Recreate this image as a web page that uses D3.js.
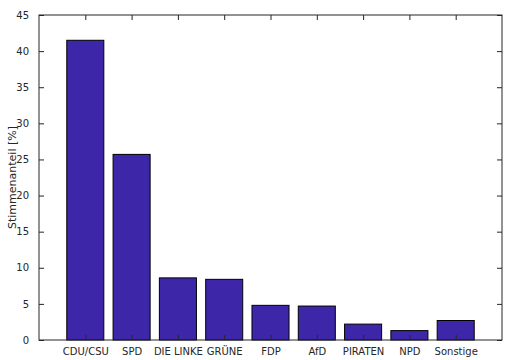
<!DOCTYPE html>
<html>
<head>
<meta charset="utf-8">
<script src="https://cdn.jsdelivr.net/npm/d3@7"></script>
<style>
  body { margin: 0; background: #fff; }
  svg text { font-family: "DejaVu Sans", sans-serif; font-size: 10px; fill: #262626; }
</style>
</head>
<body>
<div id="chart"></div>
<script>
// Bundestagswahl - Stimmenanteile
const parties = ["CDU/CSU", "SPD", "DIE LINKE", "GRÜNE", "FDP", "AfD", "PIRATEN", "NPD", "Sonstige"];
const shares = [41.5, 25.7, 8.6, 8.4, 4.8, 4.7, 2.2, 1.3, 2.7];
const yTicks = [0, 5, 10, 15, 20, 25, 30, 35, 40, 45];

const width = 520, height = 360;
const margin = { top: 15, right: 18, bottom: 20, left: 39 };
const chartWidth = width - margin.left - margin.right;
const chartHeight = height - margin.top - margin.bottom;

const svg = d3.select("#chart").append("svg")
    .attr("width", width)
    .attr("height", height);

const g = svg.append("g")
    .attr("transform", `translate(${margin.left},${margin.top})`);

// x als numerische Achse 0..10, Balken bei 1..9
const x = d3.scaleLinear().domain([0, parties.length + 1]).range([0, chartWidth]);
const y = d3.scaleLinear().domain([0, 45]).range([chartHeight, 0]);
const barW = (x(1) - x(0)) * 0.8;

// Balken
g.selectAll("rect.bar")
    .data(shares)
    .enter()
    .append("rect")
    .attr("class", "bar")
    .attr("x", (d, i) => x(i + 1) - barW / 2)
    .attr("y", d => y(d))
    .attr("width", barW)
    .attr("height", d => chartHeight - y(d))
    .attr("fill", "#3e26a8")
    .attr("stroke", "#000")
    .attr("stroke-width", 1);

const tickPos = parties.map((p, i) => i + 1);

// Achsen (Ticks nach innen)
const axisStyle = sel => {
    sel.select(".domain").remove();
    sel.selectAll("line").attr("stroke", "#262626");
};

g.append("g")
    .attr("transform", `translate(0,${chartHeight})`)
    .call(d3.axisBottom(x).tickValues(tickPos).tickFormat((d, i) => parties[i]).tickSizeInner(-5).tickSizeOuter(0).tickPadding(8))
    .call(axisStyle);

g.append("g")
    .call(d3.axisTop(x).tickValues(tickPos).tickFormat("").tickSizeInner(-5).tickSizeOuter(0))
    .call(axisStyle);

g.append("g")
    .call(d3.axisLeft(y).tickValues(yTicks).tickSizeInner(-5).tickSizeOuter(0).tickPadding(10))
    .call(axisStyle);

g.append("g")
    .attr("transform", `translate(${chartWidth},0)`)
    .call(d3.axisRight(y).tickValues(yTicks).tickFormat("").tickSizeInner(-5).tickSizeOuter(0))
    .call(axisStyle);

// Rahmen
g.append("rect")
    .attr("x", 0).attr("y", 0)
    .attr("width", chartWidth).attr("height", chartHeight)
    .attr("fill", "none")
    .attr("stroke", "#262626")
    .attr("stroke-width", 1);

g.selectAll(".tick text").style("font-family", "DejaVu Sans, sans-serif").style("font-size", "10px").attr("fill", "#262626");

// y-Beschriftung
svg.append("text")
    .attr("transform", `translate(16,${margin.top + chartHeight / 2}) rotate(-90)`)
    .attr("text-anchor", "middle")
    .style("font-size", "11px")
    .text("Stimmenanteil [%]");
</script>
</body>
</html>
